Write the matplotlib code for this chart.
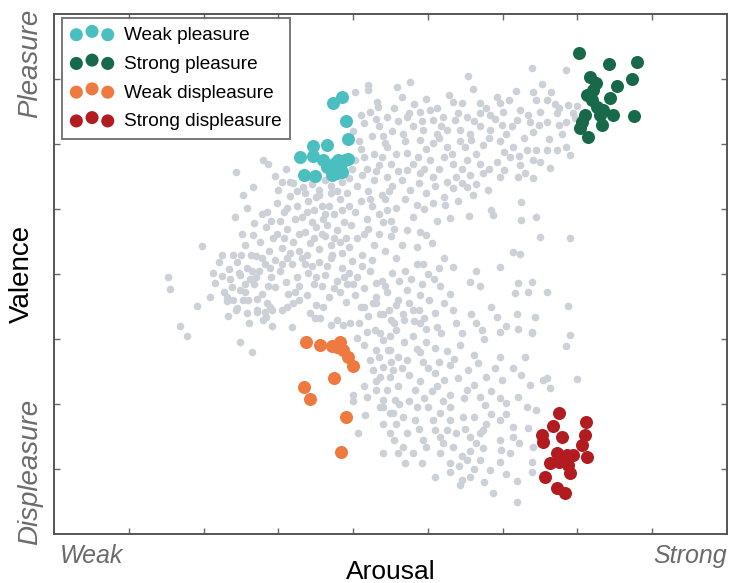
import numpy as np
import matplotlib
matplotlib.use("Agg")
import matplotlib.pyplot as plt

plt.rcParams['font.family'] = ['Liberation Sans', 'DejaVu Sans']

# Coloured clusters (arousal, valence)
weak_pleasure_x = [3.73, 3.85, 3.90, 3.93, 3.46, 3.65, 3.29, 3.46, 3.60, 3.65, 3.73,
                   3.80, 3.89, 3.93, 3.85, 3.78, 3.72, 3.34, 3.49, 3.82, 3.76]
weak_pleasure_y = [6.63, 6.72, 6.35, 6.08, 5.97, 5.98, 5.80, 5.82, 5.75, 5.65, 5.60,
                   5.75, 5.75, 5.77, 5.57, 5.55, 5.52, 5.52, 5.51, 5.65, 5.71]

strong_pleasure_x = [7.02, 7.42, 7.79, 7.17, 7.25, 7.53, 7.73, 7.13, 7.19, 7.43, 7.26,
                     7.34, 7.10, 7.06, 7.33, 7.47, 7.75, 7.14, 7.03, 7.30, 7.21]
strong_pleasure_y = [7.40, 7.23, 7.26, 7.03, 6.94, 6.89, 7.00, 6.75, 6.68, 6.71, 6.57,
                     6.52, 6.45, 6.34, 6.29, 6.45, 6.43, 6.11, 6.25, 6.45, 6.83]

weak_displeasure_x = [3.37, 3.56, 3.72, 3.82, 3.86, 3.93, 4.00, 3.74, 3.34, 3.42, 3.90, 3.84, 3.78]
weak_displeasure_y = [2.95, 2.91, 2.89, 2.95, 2.83, 2.72, 2.58, 2.40, 2.26, 2.08, 1.80, 1.26, 2.88]

strong_displeasure_x = [6.76, 7.11, 6.67, 6.52, 6.54, 6.80, 7.10, 7.06, 6.72, 6.86,
                        6.94, 7.13, 6.63, 6.76, 6.90, 6.56, 6.72, 6.83, 6.80, 6.87]
strong_displeasure_y = [1.86, 1.72, 1.66, 1.52, 1.42, 1.49, 1.52, 1.37, 1.25, 1.22,
                        1.22, 1.18, 1.09, 1.11, 0.94, 0.88, 0.71, 0.63, 1.14, 1.06]

# All other songs (grey cloud)
other_songs = [
    # far left, sparse
    (1.53, 3.95), (1.55, 3.77), (1.68, 3.20), (1.78, 3.05), (1.91, 3.51), (1.98, 4.43),
    (2.09, 3.64), (2.12, 4.02), (2.15, 3.86), (2.20, 4.18), (2.27, 3.72), (2.31, 3.58),
    (2.34, 4.07), (2.36, 3.92), (2.33, 3.36), (2.24, 3.97), (2.40, 4.30), (2.38, 3.80),
    (2.25, 4.30), (2.40, 3.60),
    # left of centre
    (2.42, 4.88), (2.58, 5.01), (2.45, 4.18), (2.49, 3.98), (2.49, 3.75), (2.45, 3.48),
    (2.49, 2.95), (2.65, 2.80), (2.55, 4.45), (2.66, 4.60), (2.62, 3.92), (2.58, 4.10),
    (2.70, 4.28), (2.74, 4.05), (2.68, 3.85), (2.78, 3.70), (2.60, 3.60), (2.72, 3.45),
    (2.85, 3.55), (2.80, 3.30), (2.52, 4.62), (2.76, 4.50), (2.84, 4.72), (2.88, 4.35),
    (2.82, 4.15), (2.90, 3.95), (2.63, 4.30), (2.55, 3.85), (2.47, 4.02), (2.71, 3.62),
    (2.86, 3.82), (2.93, 4.55), (2.90, 4.82), (2.78, 4.92), (2.68, 4.78), (2.82, 3.42),
    (2.58, 3.40), (2.92, 3.20), (2.61, 3.25), (2.89, 4.10), (2.80, 5.75), (2.86, 5.70),
    (2.43, 5.57), (2.95, 5.51), (2.66, 5.34), (2.53, 5.22),
    (2.55, 3.72), (2.65, 4.05), (2.78, 4.25), (2.95, 3.80), (2.70, 3.95), (2.50, 4.30),
    (2.85, 4.95), (2.92, 3.45),
    (2.31, 3.65), (2.44, 3.45), (2.53, 3.60), (2.71, 3.42), (2.84, 3.34), (2.89, 3.50),
    (3.11, 3.50), (3.13, 3.70), (3.27, 3.60), (3.51, 3.52), (3.60, 3.50), (3.91, 3.57),
    (3.18, 3.19), (3.49, 3.33), (3.56, 3.33), (3.71, 3.22), (3.78, 3.29), (3.87, 3.22),
    (3.96, 3.24),
    # centre, under the teal cluster
    (3.05, 5.42), (3.16, 5.42), (3.20, 5.40), (3.33, 5.34), (3.45, 5.38), (3.55, 5.30),
    (3.62, 5.45), (3.70, 5.36), (3.85, 5.42), (3.95, 5.48), (3.92, 5.80), (3.98, 5.62),
    (3.10, 5.62), (3.40, 5.50), (3.78, 5.28), (3.50, 5.18),
    (2.98, 5.10), (3.08, 4.95), (3.15, 5.20), (3.25, 5.05), (3.32, 4.88), (3.40, 5.12),
    (3.48, 4.98), (3.55, 5.22), (3.60, 4.85), (3.68, 5.05), (3.75, 4.92), (3.82, 5.15),
    (3.88, 4.80), (3.95, 5.05), (3.02, 4.82), (3.22, 4.85), (3.45, 4.80), (3.70, 5.25),
    (3.92, 5.25), (3.35, 5.25),
    (2.98, 4.62), (3.05, 4.40), (3.12, 4.70), (3.20, 4.50), (3.28, 4.35), (3.35, 4.65),
    (3.42, 4.48), (3.50, 4.72), (3.55, 4.38), (3.62, 4.58), (3.70, 4.45), (3.78, 4.68),
    (3.85, 4.32), (3.90, 4.55), (3.97, 4.75), (3.15, 4.32), (3.38, 4.30), (3.65, 4.75),
    (3.82, 4.50), (3.08, 4.55), (3.48, 4.55), (3.72, 4.30),
    (2.95, 4.22), (3.02, 4.05), (3.10, 3.88), (3.18, 4.15), (3.25, 3.95), (3.32, 4.25),
    (3.40, 4.02), (3.48, 3.85), (3.55, 4.18), (3.62, 3.98), (3.70, 4.25), (3.78, 3.90),
    (3.85, 4.10), (3.92, 3.85), (3.98, 4.20), (3.12, 4.25), (3.45, 4.12), (3.58, 3.82),
    (3.88, 3.95), (3.28, 3.82),
    (3.05, 3.45), (3.20, 3.55), (3.38, 3.68), (3.68, 3.65), (3.82, 3.72), (3.42, 3.40),
    (3.00, 5.30), (3.25, 5.28), (3.58, 5.05), (3.88, 5.60), (3.12, 5.02), (3.38, 4.95),
    (3.62, 4.92), (3.85, 4.98), (3.28, 4.62), (3.58, 4.62), (3.75, 4.55), (3.95, 4.42),
    (3.05, 4.15), (3.35, 4.15), (3.65, 4.12), (3.95, 4.02), (3.22, 3.72), (3.50, 3.95),
    (3.75, 3.78), (4.00, 3.85), (4.12, 4.12), (4.15, 4.62), (4.40, 4.80), (4.55, 4.70),
    (4.22, 5.15), (4.48, 5.28), (4.15, 5.80), (4.40, 6.12), (4.55, 6.55), (4.22, 6.50),
    # upper band, middle
    (4.02, 6.80), (4.20, 6.91), (4.20, 6.83), (4.32, 6.65), (4.33, 6.57), (4.59, 6.88),
    (4.10, 6.45), (4.45, 6.42),
    (4.00, 6.20), (4.08, 6.05), (4.15, 6.32), (4.25, 6.12), (4.35, 6.28), (4.42, 6.02),
    (4.52, 6.20), (4.60, 6.35), (4.30, 6.38),
    (4.02, 5.75), (4.10, 5.92), (4.18, 5.62), (4.28, 5.85), (4.35, 5.68), (4.45, 5.95),
    (4.50, 5.70), (4.58, 5.85), (4.38, 5.80),
    (4.05, 5.35), (4.12, 5.52), (4.20, 5.28), (4.28, 5.45), (4.38, 5.22), (4.45, 5.50),
    (4.52, 5.35), (4.60, 5.58), (4.30, 5.58),
    (4.02, 4.95), (4.10, 5.12), (4.18, 4.85), (4.25, 5.05), (4.35, 4.92), (4.42, 5.15),
    (4.50, 4.82), (4.58, 5.02), (4.45, 4.98),
    (4.05, 4.55), (4.12, 4.30), (4.20, 4.70), (4.28, 4.45), (4.35, 4.62), (4.42, 4.35),
    (4.50, 4.58), (4.58, 4.25), (4.25, 4.22),
    # upper band, right
    (4.76, 6.96), (5.54, 7.04), (6.39, 7.17), (6.85, 7.14), (5.34, 6.65), (5.45, 6.63),
    (5.70, 6.63), (5.92, 6.73), (6.41, 6.80), (6.65, 6.80), (6.45, 6.68), (6.59, 6.68),
    (5.96, 6.63), (6.76, 6.55), (4.89, 6.50), (5.03, 6.52), (4.72, 6.42), (5.07, 6.37),
    (5.20, 6.42), (5.36, 6.37), (5.52, 6.42), (5.70, 6.47), (5.83, 6.45), (6.01, 6.50),
    (6.23, 6.52), (6.34, 6.45), (6.50, 6.50), (6.72, 6.47), (6.88, 6.60), (6.94, 6.47),
    (6.85, 6.34), (6.76, 6.29), (6.59, 6.34), (6.48, 6.29), (6.36, 6.34), (6.19, 6.37),
    (5.99, 6.29), (5.83, 6.22), (5.70, 6.27), (5.56, 6.16), (5.43, 6.22), (5.25, 6.22),
    (5.12, 6.16), (4.94, 6.22), (4.80, 6.27), (4.67, 6.16), (4.89, 6.06), (5.07, 6.01),
    (5.25, 5.96), (5.43, 6.04), (5.58, 6.06), (5.74, 5.98), (5.96, 6.04), (6.14, 5.96),
    (6.32, 5.91), (6.45, 5.91), (6.59, 5.91), (6.72, 5.91), (6.85, 5.96), (6.90, 5.83),
    (4.72, 5.86), (4.87, 5.80), (5.03, 5.75), (5.21, 5.80), (5.34, 5.70), (5.52, 5.75),
    (5.70, 5.70), (5.92, 5.73), (6.10, 5.80), (6.23, 5.68), (6.41, 5.75), (6.63, 5.63),
    (4.72, 5.60), (4.89, 5.55), (5.07, 5.50), (5.25, 5.42), (5.38, 5.50), (5.56, 5.52),
    (5.74, 5.55), (5.96, 5.50), (6.21, 5.50), (6.41, 5.47), (4.76, 5.29), (4.98, 5.24),
    (5.21, 5.19), (5.34, 5.32), (5.52, 5.34), (5.65, 5.39), (4.85, 5.06), (5.07, 5.09),
    (5.23, 5.06), (5.29, 4.86), (4.80, 4.88), (4.72, 4.68), (4.89, 4.65), (5.05, 4.47),
    (4.85, 4.42), (4.94, 4.16), (5.21, 4.24), (5.34, 4.11), (5.65, 4.04), (5.96, 4.11),
    (5.85, 4.98), (5.87, 4.91), (6.25, 5.11), (6.25, 4.83), (6.45, 4.88), (6.50, 4.57),
    (6.90, 4.55), (6.14, 4.34), (6.23, 4.31), (6.97, 6.40), (6.99, 6.58), (4.66, 4.45),
    (5.12, 4.82), (4.98, 4.60), (5.15, 5.62), (5.60, 5.22), (6.05, 6.15), (6.28, 6.10),
    (4.65, 6.72), (4.82, 6.62), (4.98, 6.70), (5.12, 6.55), (5.28, 6.75), (5.60, 6.85),
    (5.78, 6.55), (6.08, 6.68), (6.18, 6.82), (6.52, 6.92), (6.70, 6.62), (4.75, 6.48),
    (4.92, 6.35), (5.18, 6.28), (5.40, 6.48), (5.62, 6.35), (5.90, 6.38), (6.12, 6.28),
    (6.40, 6.18), (6.62, 6.08), (6.80, 6.15), (4.70, 6.05), (4.98, 5.92), (5.15, 6.10),
    (5.32, 5.85), (5.50, 5.95), (5.65, 5.85), (5.82, 6.10), (6.02, 5.88), (6.22, 5.82),
    (6.50, 5.72), (4.80, 5.70), (4.95, 5.62), (5.45, 5.62), (5.82, 5.62), (6.02, 5.60),
    (6.30, 5.55), (4.65, 5.45), (4.88, 5.40), (5.10, 5.35), (5.45, 5.40), (5.80, 5.30),
    (4.70, 5.15), (4.95, 5.00), (5.40, 5.12), (5.55, 4.90),
    # between the bands
    (4.05, 3.95), (4.15, 3.78), (4.22, 4.05), (4.30, 3.65), (4.38, 3.90), (4.45, 3.72),
    (4.52, 4.02), (4.60, 3.60), (4.10, 3.50), (4.20, 3.35), (4.48, 3.45), (4.08, 3.25),
    (4.55, 3.25), (4.62, 3.90), (4.02, 3.68), (4.14, 3.50), (4.31, 3.55), (4.40, 3.39),
    (4.58, 3.52), (4.31, 3.86), (4.42, 3.81), (4.27, 3.55), (4.36, 3.39),
    (4.70, 4.05), (4.78, 3.92), (4.85, 4.15), (4.92, 3.85), (5.00, 4.00), (5.08, 3.92),
    (5.15, 4.10), (4.75, 3.55), (4.88, 3.45), (5.02, 3.60), (5.10, 3.40), (4.68, 3.30),
    (5.22, 3.55), (4.82, 3.28), (4.95, 3.33),
    # lower band
    (4.72, 3.75), (4.89, 3.68), (5.16, 3.81), (5.30, 3.70), (5.56, 3.88), (5.70, 3.81),
    (6.21, 3.86), (6.34, 3.73), (6.59, 3.73), (6.39, 3.88), (6.16, 3.71),
    (4.67, 3.39), (4.89, 3.24), (4.98, 3.16), (5.12, 3.19), (5.18, 3.09), (5.34, 3.45),
    (5.38, 3.24), (5.58, 3.39), (5.65, 3.24), (5.72, 3.14), (5.85, 3.50), (5.92, 3.34),
    (5.96, 3.11), (6.19, 3.39), (6.21, 3.16), (6.43, 3.34), (6.39, 3.09), (6.88, 3.51),
    (6.90, 3.06), (6.85, 2.89),
    (4.05, 3.01), (4.18, 3.11), (4.36, 3.09), (4.49, 3.04), (4.58, 3.14), (4.14, 2.91),
    (4.31, 2.83), (4.49, 2.83), (4.60, 2.73), (4.22, 2.68), (4.40, 2.57), (4.54, 2.52),
    (4.36, 2.42), (4.49, 2.42), (4.14, 2.27), (4.31, 2.22), (4.45, 2.22), (4.60, 2.27),
    (4.00, 2.14), (4.18, 2.11), (4.40, 2.06), (4.56, 2.06), (4.00, 2.04), (4.49, 1.86),
    (4.40, 1.70), (4.58, 1.70), (4.16, 1.83), (4.07, 1.55), (4.49, 1.55), (4.40, 1.24),
    (4.60, 1.24), (4.29, 3.14), (4.40, 2.98), (4.34, 2.73), (4.47, 2.83), (4.27, 2.52),
    (4.54, 1.86), (4.40, 1.96), (4.36, 1.96), (4.31, 2.35),
    (4.72, 2.68), (4.94, 2.65), (5.09, 2.86), (5.25, 2.81), (5.29, 2.60), (5.09, 2.47),
    (5.21, 2.37), (5.43, 2.91), (5.61, 2.75), (5.54, 2.52), (5.67, 2.63), (5.78, 2.42),
    (5.96, 2.73), (6.14, 2.55), (6.30, 2.73), (5.99, 2.37), (6.36, 2.29), (6.59, 2.40),
    (6.99, 2.38), (6.54, 2.37), (6.63, 2.25), (6.39, 3.11),
    (4.68, 2.95), (4.80, 3.05), (4.85, 2.85), (4.98, 2.95), (4.75, 2.45), (4.90, 2.35),
    (5.00, 2.55), (4.65, 2.55), (5.15, 2.65),
    (4.83, 2.21), (5.12, 2.27), (5.29, 2.14), (5.52, 2.21), (5.70, 2.11), (5.76, 1.98),
    (5.96, 2.09), (6.05, 2.01), (6.21, 2.11), (6.32, 1.96), (6.45, 1.91), (5.00, 1.96),
    (5.16, 1.86), (4.67, 1.80), (4.83, 1.75), (5.07, 1.75), (5.29, 1.75), (5.47, 1.80),
    (5.61, 1.80), (5.78, 1.70), (5.96, 1.75), (6.14, 1.65), (6.34, 1.63), (4.72, 1.55),
    (4.94, 1.45), (5.16, 1.50), (5.38, 1.55), (5.56, 1.50), (5.74, 1.60), (5.96, 1.45),
    (6.14, 1.50), (6.41, 1.34), (4.67, 1.34), (4.98, 1.34), (5.16, 1.24), (5.34, 1.34),
    (5.56, 1.27), (5.74, 1.32), (6.10, 1.24), (6.39, 1.11), (4.80, 1.24), (5.29, 1.09),
    (5.41, 1.04), (5.52, 1.14), (5.70, 1.14), (5.83, 0.98), (5.96, 1.11), (5.09, 0.88),
    (5.45, 0.83), (5.56, 0.88), (5.43, 0.75), (5.87, 0.63), (6.19, 0.81), (6.19, 0.50),
    (6.39, 0.96), (5.40, 2.40), (5.85, 2.20), (5.30, 1.95), (4.95, 2.10), (5.65, 1.40),
    (6.05, 1.85), (5.25, 1.60), (5.90, 2.55), (6.25, 2.45), (4.85, 1.95),
    (4.50, 2.65), (4.62, 2.00), (4.75, 2.05), (4.90, 2.80), (5.05, 2.20), (5.20, 2.05),
    (5.35, 2.70), (5.48, 2.10), (5.62, 2.30), (5.50, 1.62), (5.85, 1.85), (5.10, 1.60),
    (4.88, 1.62), (5.20, 1.40), (5.45, 1.20), (5.70, 1.55), (5.98, 1.30), (6.22, 1.40),
    (5.62, 1.00), (5.30, 0.95), (4.55, 1.45), (4.70, 1.10), (4.92, 1.10), (6.05, 0.92),
    (5.75, 0.80), (4.50, 3.30), (4.80, 3.45), (5.45, 3.10), (5.75, 3.00), (6.05, 3.20),
]

song_x = [p[0] for p in other_songs]
song_y = [p[1] for p in other_songs]

grey = '#cbd1d7'
colors = {
    'Weak pleasure': '#4bbfc0',
    'Strong pleasure': '#17694a',
    'Weak displeasure': '#ee7a40',
    'Strong displeasure': '#b21c21',
}

fig = plt.figure(figsize=(7.34, 5.83), dpi=100)
ax = fig.add_axes([54 / 734, 1 - 534 / 583, 673 / 734, 520 / 583])

ax.scatter(song_x, song_y, s=30, color=grey, linewidths=0, zorder=1)

groups = [
    ('Weak pleasure', weak_pleasure_x, weak_pleasure_y),
    ('Strong pleasure', strong_pleasure_x, strong_pleasure_y),
    ('Weak displeasure', weak_displeasure_x, weak_displeasure_y),
    ('Strong displeasure', strong_displeasure_x, strong_displeasure_y),
]
for name, gx, gy in groups:
    ax.scatter(gx, gy, s=88, color=colors[name], linewidths=0, zorder=2, label=name)

ax.set_xlim(0, 9)
ax.set_ylim(0, 8)
ax.set_xticks(np.arange(1, 9))
ax.set_yticks(np.arange(1, 8))
ax.set_xticklabels([])
ax.set_yticklabels([])
ax.tick_params(direction='in', length=4, width=1, color='#666666',
               top=True, right=True)
for s in ax.spines.values():
    s.set_color('#555555')
    s.set_linewidth(1.4)

leg = ax.legend(loc='upper left', bbox_to_anchor=(0.012, 0.992), borderaxespad=0,
                scatterpoints=3, scatteryoffsets=[0.4, 0.65, 0.4], fontsize=13.7,
                frameon=True, fancybox=False, handletextpad=0.55, labelspacing=0.6,
                borderpad=0.45, handlelength=2.25)
leg.get_frame().set_edgecolor('#555555')
leg.get_frame().set_linewidth(1.4)

label_grey = '#6b6b6b'
ax.text(0.056, -0.043, 'Weak', transform=ax.transAxes, ha='center', va='center',
        fontsize=18, style='italic', color=label_grey)
ax.text(0.945, -0.043, 'Strong', transform=ax.transAxes, ha='center', va='center',
        fontsize=18, style='italic', color=label_grey)
ax.text(0.5, -0.073, 'Arousal', transform=ax.transAxes, ha='center', va='center',
        fontsize=19, color='black')
ax.text(-0.035, 0.905, 'Pleasure', transform=ax.transAxes, ha='center', va='center',
        fontsize=20, style='italic', color=label_grey, rotation=90)
ax.text(-0.035, 0.12, 'Displeasure', transform=ax.transAxes, ha='center', va='center',
        fontsize=20, style='italic', color=label_grey, rotation=90)
ax.text(-0.047, 0.5, 'Valence', transform=ax.transAxes, ha='center', va='center',
        fontsize=20, color='black', rotation=90)

fig.savefig('out.png', dpi=100)
